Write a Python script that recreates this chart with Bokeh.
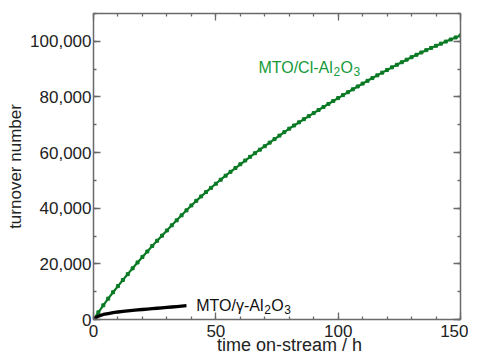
from bokeh.plotting import figure
from bokeh.models import (Range1d, LinearAxis, NumeralTickFormatter, Label,
                          SingleIntervalTicker, CustomJSTickFormatter)
from bokeh.embed import file_html
from bokeh.resources import INLINE

# ---- data ----
time_cl = [0, 2, 4, 6, 8, 10, 12, 14, 16, 18, 20, 22, 24, 26, 28, 30, 32, 34, 36, 38,
           40, 42, 44, 46, 48, 50, 52, 54, 56, 58, 60, 62, 64, 66, 68, 70, 72, 74, 76, 78,
           80, 82, 84, 86, 88, 90, 92, 94, 96, 98, 100, 102, 104, 106, 108, 110, 112, 114,
           116, 118, 120, 122, 124, 126, 128, 130, 132, 134, 136, 138, 140, 142, 144, 146,
           148, 150]
ton_cl = [0, 2600, 5100, 7500, 9800, 12000, 14200, 16300, 18400, 20500, 22500,
          24450, 26400, 28300, 30150, 32000, 33850, 35650, 37450, 39250, 41000,
          42650, 44250, 45800, 47300, 48800, 50250, 51700, 53100, 54450, 55800,
          57150, 58480, 59780, 61050, 62300, 63580, 64850, 66100, 67350, 68600,
          69750, 70880, 72000, 73100, 74200, 75300, 76390, 77470, 78540, 79600,
          80660, 81710, 82750, 83780, 84800, 85800, 86790, 87770, 88740, 89700,
          90640, 91570, 92490, 93400, 94300, 95150, 95990, 96820, 97620, 98400,
          99160, 99910, 100650, 101380, 102100]

time_g = [0, 1, 2, 4, 6, 8, 10, 12, 14, 16, 18, 20, 22, 24, 26, 28, 30, 32, 34, 36, 38]
ton_g = [0, 700, 1200, 1800, 2150, 2450, 2700, 2900, 3100, 3300, 3450, 3600, 3750,
         3900, 4050, 4200, 4350, 4500, 4650, 4800, 4950]

x_tick_step = 50
y_tick_step = 20000

GREEN_LINE = "#0b7a25"
GREEN_TEXT = "#159a3a"
AXIS_COL = "#6a6a6a"
FONT = "Liberation Sans"

p = figure(frame_width=367, frame_height=306,
           min_border_left=93, min_border_right=8, min_border_top=13, min_border_bottom=40,
           x_range=Range1d(0, 150), y_range=Range1d(0, 110000),
           output_backend="svg", toolbar_location=None, tools="")
p.xgrid.visible = False
p.ygrid.visible = False
p.outline_line_color = None
p.background_fill_color = "white"

p.line(time_cl, ton_cl, line_color=GREEN_LINE, line_width=2.2)
p.scatter(time_cl, ton_cl, marker="square", size=3, fill_color=GREEN_LINE, line_color=GREEN_LINE)
p.line(time_g, ton_g, line_color="black", line_width=3.3)


def style_axis(ax, show_labels):
    ax.axis_line_color = AXIS_COL
    ax.axis_line_width = 1.5
    ax.major_tick_line_color = AXIS_COL
    ax.minor_tick_line_color = AXIS_COL
    ax.major_tick_line_width = 1.3
    ax.minor_tick_line_width = 1.3
    ax.major_tick_in = 7
    ax.major_tick_out = 0
    ax.minor_tick_in = 3
    ax.minor_tick_out = 0
    if show_labels:
        ax.major_label_text_font = FONT
        ax.major_label_text_font_size = "17px"
        ax.major_label_text_color = "#222222"
        ax.axis_label_text_font = FONT
        ax.axis_label_text_font_size = "17px"
        ax.axis_label_text_font_style = "normal"
        ax.axis_label_text_color = "#222222"
    else:
        ax.formatter = CustomJSTickFormatter(code="return ''")
        ax.major_label_standoff = 0
        ax.axis_label = None


p.xaxis.ticker = SingleIntervalTicker(interval=x_tick_step, num_minor_ticks=5)
p.yaxis.ticker = SingleIntervalTicker(interval=y_tick_step, num_minor_ticks=2)
p.yaxis.formatter = NumeralTickFormatter(format="0,0")
p.xaxis.axis_label = "\u00a0\u00a0\u00a0\u00a0\u00a0time on-stream / h"
p.yaxis.axis_label = "turnover number"
style_axis(p.xaxis[0], True)
style_axis(p.yaxis[0], True)
p.xaxis.axis_label_text_font_size = "18px"
p.xaxis.major_label_standoff = 5
p.xaxis.axis_label_standoff = -5
p.yaxis.major_label_standoff = 2
p.yaxis.axis_label_standoff = 2

top = LinearAxis(ticker=SingleIntervalTicker(interval=x_tick_step, num_minor_ticks=5))
right = LinearAxis(ticker=SingleIntervalTicker(interval=y_tick_step, num_minor_ticks=2))
style_axis(top, False)
style_axis(right, False)
p.add_layout(top, "above")
p.add_layout(right, "right")


# series labels with subscripts
def chem_label(x, y, parts, color):
    for txt, dx, dy, size in parts:
        p.add_layout(Label(x=x, y=y, x_offset=dx, y_offset=dy, text=txt,
                           text_font=FONT, text_font_size=size, text_color=color,
                           text_baseline="alphabetic", text_align="left"))


chem_label(67.4, 90600, [("MTO/Cl-Al", 0, 0, "16px"), ("2", 75, -4, "12px"),
                         ("O", 82, 0, "16px"), ("3", 95, -4, "12px")], GREEN_TEXT)
chem_label(42, 5000, [("MTO/\u03b3-Al", 0, 0, "16px"), ("2", 68, -4, "12px"),
                      ("O", 75, 0, "16px"), ("3", 88, -4, "12px")], "#111111")

open("out.html", "w").write(file_html(p, INLINE))
